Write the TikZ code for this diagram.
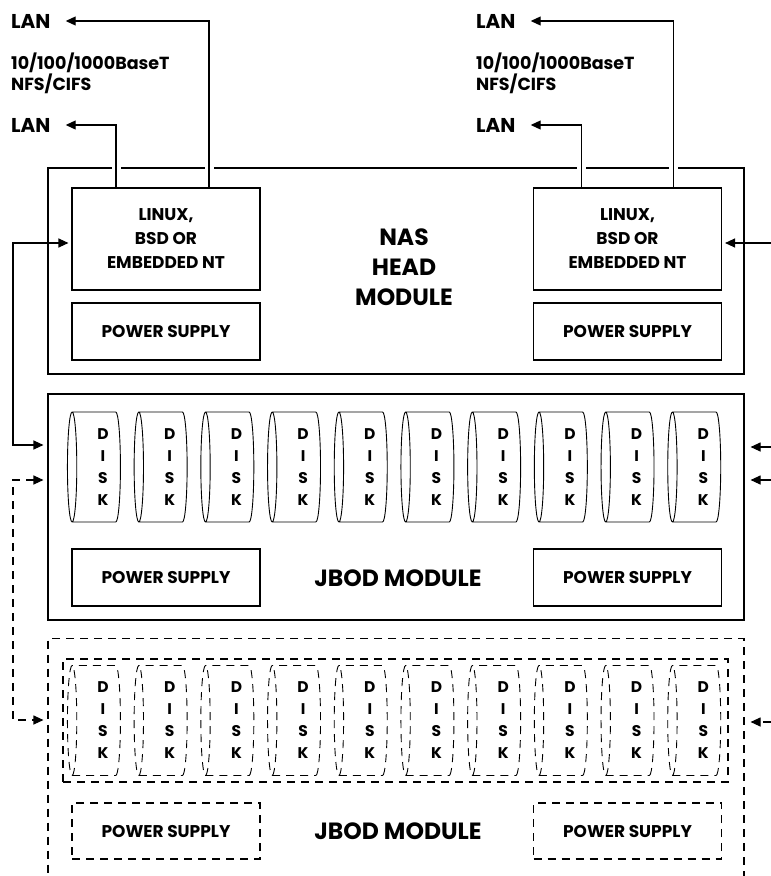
\documentclass[tikz,border=0pt]{standalone}
\usepackage{fontspec}
\setmainfont{Poppins}
\usepackage{tikz}
\usetikzlibrary{shapes.geometric, arrows.meta, positioning, calc}

\begin{document}
\begin{tikzpicture}[x=1pt, y=-1pt,
  module/.style={draw, line width=1.1pt, inner sep=0pt},
  unit/.style={draw, line width=1.1pt, minimum width=188pt, align=center,
    font=\fontsize{17}{24}\selectfont\bfseries},
  disk/.style={draw, line width=0.9pt, cylinder, shape border rotate=180, aspect=0.12,
    minimum width=110pt, minimum height=53pt, inner sep=0pt},
  disktext/.style={align=center, inner sep=0pt, font=\fontsize{15.5}{22}\selectfont\bfseries},
  title/.style={align=center, font=\fontsize{23.5}{30}\selectfont\bfseries},
  note/.style={anchor=west, inner sep=0pt, align=left, font=\fontsize{17.5}{16}\selectfont\bfseries},
  lan/.style={anchor=west, inner sep=0pt, font=\fontsize{20}{20}\selectfont\bfseries},
  arrow/.style={-{Triangle[length=10pt, width=9pt]}, line width=1.1pt},
  twoway/.style={{Triangle[length=10pt, width=9pt]}-{Triangle[length=10pt, width=9pt]}, line width=1.1pt},
  hop/.style={preaction={draw=white, line width=9pt, -}},
  dashline/.style={dash pattern=on 8pt off 6pt}
]
  \clip (0,0) rectangle (771,876);

  % NAS head
  \node[module, minimum width=696pt, minimum height=206pt] (nas) at (396,271) {};
  \node[title] (nastxt) at (404,267) {NAS\\HEAD\\MODULE};

  \node[lan] (lanA1) at (11,21) {LAN};
  \node[note] (linkA) at (11,73) {10/100/1000BaseT\\NFS/CIFS};
  \node[lan] (lanA2) at (11,125) {LAN};
  \node[lan] (lanB1) at (476,21) {LAN};
  \node[note] (linkB) at (476,73) {10/100/1000BaseT\\NFS/CIFS};
  \node[lan] (lanB2) at (476,125) {LAN};

  \coordinate (osA) at (166,239);
  \coordinate (osB) at (627.5,239);
  \draw[arrow, hop] ($(osA)+(-50,-51)$) |- ([xshift=15pt]lanA2.east);
  \draw[arrow, hop] ($(osA)+(43,-51)$) |- ([xshift=15pt]lanA1.east);
  \draw[arrow, hop] ($(osB)+(-46,-51)$) |- ([xshift=15pt]lanB2.east);
  \draw[arrow, hop] ($(osB)+(46,-51)$) |- ([xshift=15pt]lanB1.east);

  \node[unit, minimum height=102pt, fill=white] (os1) at (osA) {LINUX,\\BSD OR\\EMBEDDED NT};
  \node[unit, minimum height=102pt, fill=white] (os2) at (osB) {LINUX,\\BSD OR\\EMBEDDED NT};
  \node[unit, minimum height=57pt] (psu1) at (166,331.5) {POWER SUPPLY};
  \node[unit, minimum height=57pt] (psu2) at (627.5,331.5) {POWER SUPPLY};

  % JBOD module
  \node[module, minimum width=696pt, minimum height=226pt] (jbod) at (396,507) {};
  \foreach \i in {0,...,9} {
    \node[disk] (d\i) at (96.5+66.7*\i,467) {\rule{0pt}{78pt}};
    \node[disktext] at ([xshift=6.5pt]d\i.center) {D\\I\\S\\K};
  }
  \node[unit, minimum height=57pt] (jpsu1) at (166,577.5) {POWER SUPPLY};
  \node[unit, minimum height=57pt] (jpsu2) at (627.5,577.5) {POWER SUPPLY};
  \node[title] (jtxt) at (398,578) {JBOD MODULE};

  % optional second JBOD
  \node[module, dashline, minimum width=696pt, minimum height=300pt, anchor=north] (jbodB) at (396,638) {};
  \node[module, dashline, minimum width=665pt, minimum height=123pt] (tray) at (395.5,720.5) {};
  \foreach \i in {0,...,9} {
    \node[disk, dashline] (e\i) at (96.5+66.7*\i,720.5) {\rule{0pt}{78pt}};
    \node[disktext] at ([xshift=6.5pt]e\i.center) {D\\I\\S\\K};
  }
  \node[unit, dashline, minimum height=56pt] (kpsu1) at (166,831) {POWER SUPPLY};
  \node[unit, dashline, minimum height=56pt] (kpsu2) at (627.5,831) {POWER SUPPLY};
  \node[title] (ktxt) at (398,831) {JBOD MODULE};

  % links between modules
  \coordinate (up) at (13,445);
  \coordinate (dA) at (13,480);
  \coordinate (dB) at (13,720);
  \draw[twoway, shorten <=3pt, shorten >=4pt] ([yshift=-4pt]os1.west) -| (up) -- (jbod.west |- up);
  \draw[twoway, dashline, shorten <=4pt, shorten >=4pt] (jbod.west |- dA) -- (dA) -- (dB) -- (jbodB.west |- dB);

  \coordinate (inR) at (771,243);
  \coordinate (inJ1) at (771,447);
  \coordinate (inJ2) at (771,480);
  \coordinate (inJ3) at (771,722);
  \draw[arrow, shorten >=3pt] (inR) -- (os2.east |- inR);
  \draw[arrow, shorten >=6pt] (inJ1) -- (jbod.east |- inJ1);
  \draw[arrow, shorten >=6pt] (inJ2) -- (jbod.east |- inJ2);
  \draw[arrow, dashline, shorten >=6pt] (inJ3) -- (jbodB.east |- inJ3);
\end{tikzpicture}
\end{document}
